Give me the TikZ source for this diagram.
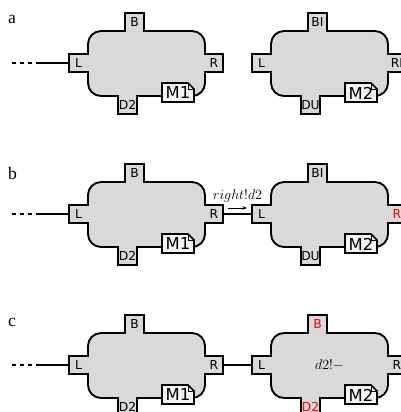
\documentclass[tikz,border=0pt]{standalone}
\usepackage{amsmath}
\usepackage{fontspec}
\usepackage{tikz}
\usetikzlibrary{arrows.meta}
\newfontfamily\portfont{DejaVu Sans}
\newfontfamily\rowfont{Liberation Serif}
\definecolor{agentgray}{HTML}{D9D9D9}
\definecolor{memogray}{HTML}{F4F4F4}
\tikzset{
  px/.style={x=0.03cm,y=-0.03cm},
  agentbody/.style={draw,fill=agentgray,line width=1.6pt,line join=miter},
  port/.style={inner sep=0pt,minimum width=16.2pt,minimum height=15.3pt,font=\portfont\fontsize{10.5}{12}\selectfont},
  memo/.style={draw,fill=memogray,line width=1.5pt},
  fold/.style={draw,line width=0.5pt},
  memotext/.style={inner sep=0pt,font=\portfont\fontsize{14}{16}\selectfont},
  wire/.style={line width=1.3pt},
  loose/.style={wire,dash pattern=on 3.4pt off 3.4pt},
  rowlabel/.style={anchor=base west,inner sep=0pt,font=\rowfont\fontsize{15}{18}\selectfont},
  msg/.style={inner sep=1pt,font=\large},
}
% agent: #1 name, #2 origin, #3 top, #4 bottom, #5 right, #6 memo
\newcommand\agent[6]{%
  \begin{scope}[shift={(#2)}]
    \draw[agentbody] (13,0) -- (37,0) -- (37,-18) -- (56,-18) -- (56,0) -- (104,0)
      arc[start angle=-90,end angle=0,radius=13] -- (117,23) -- (135,23) -- (135,41) -- (117,41) -- (117,52)
      arc[start angle=0,end angle=90,radius=13] -- (49,65) -- (49,83) -- (30,83) -- (30,65) -- (13,65)
      arc[start angle=90,end angle=180,radius=13] -- (0,41) -- (-19,41) -- (-19,23) -- (0,23) -- (0,13)
      arc[start angle=180,end angle=270,radius=13] -- cycle;
    \node[port] (#1L) at (-9.5,32) {L};
    \node[port] (#1B) at (46.5,-9) {#3};
    \node[port] (#1D) at (39.5,74) {#4};
    \node[port] (#1R) at (126,32) {#5};
    \draw[memo] (74,52) -- (100,52) -- (106,58) -- (106,71) -- (74,71) -- cycle;
    \draw[fold] (100,52) -- (100,58) -- (106,58);
    \node[memotext] (#1M) at (90,62) {#6};
  \end{scope}}

\begin{document}
\begin{tikzpicture}[px]
  \useasboundingbox (0,0) rectangle (401,412);
  \clip (0,0) rectangle (401,412);

  % a
  \node[rowlabel] (la) at (8,23) {a};
  \agent{a1}{88,31}{B}{D2}{R}{M1}
  \agent{a2}{271,31}{BI}{DU}{RI}{M2}
  \coordinate (a0) at (12,63);
  \coordinate (a0s) at (36,63);
  \draw[loose] (a0) -- (a0s);
  \draw[wire] (a0s) -- (a1L);

  % b
  \node[rowlabel] (lb) at (8,179) {b};
  \agent{b1}{88,182}{B}{D2}{R}{M1}
  \agent{b2}{271,182}{BI}{DU}{\textcolor{red}{R}}{M2}
  \coordinate (b0) at (12,214);
  \coordinate (b0s) at (36,214);
  \draw[loose] (b0) -- (b0s);
  \draw[wire] (b0s) -- (b1L);
  \draw[wire] (b1R) -- (b2L);
  \coordinate (sendtail) at (228,208);
  \coordinate (sendhead) at (247,208);
  \draw[-{Stealth[length=4pt,width=3pt]},line width=0.6pt] (sendtail) -- (sendhead);
  \node[msg] (send) at (237.5,196) {$right!d2$};

  % c
  \node[rowlabel] (lc) at (8,326) {c};
  \agent{c1}{88,333}{B}{D2}{R}{M1}
  \agent{c2}{271,333}{\textcolor{red}{B}}{\textcolor{red}{D2}}{R}{M2}
  \coordinate (c0) at (12,365);
  \coordinate (c0s) at (36,365);
  \draw[loose] (c0) -- (c0s);
  \draw[wire] (c0s) -- (c1L);
  \draw[wire] (c1R) -- (c2L);
  \node[msg] (recv) at (329.5,365) {$d2!-$};
\end{tikzpicture}
\end{document}
